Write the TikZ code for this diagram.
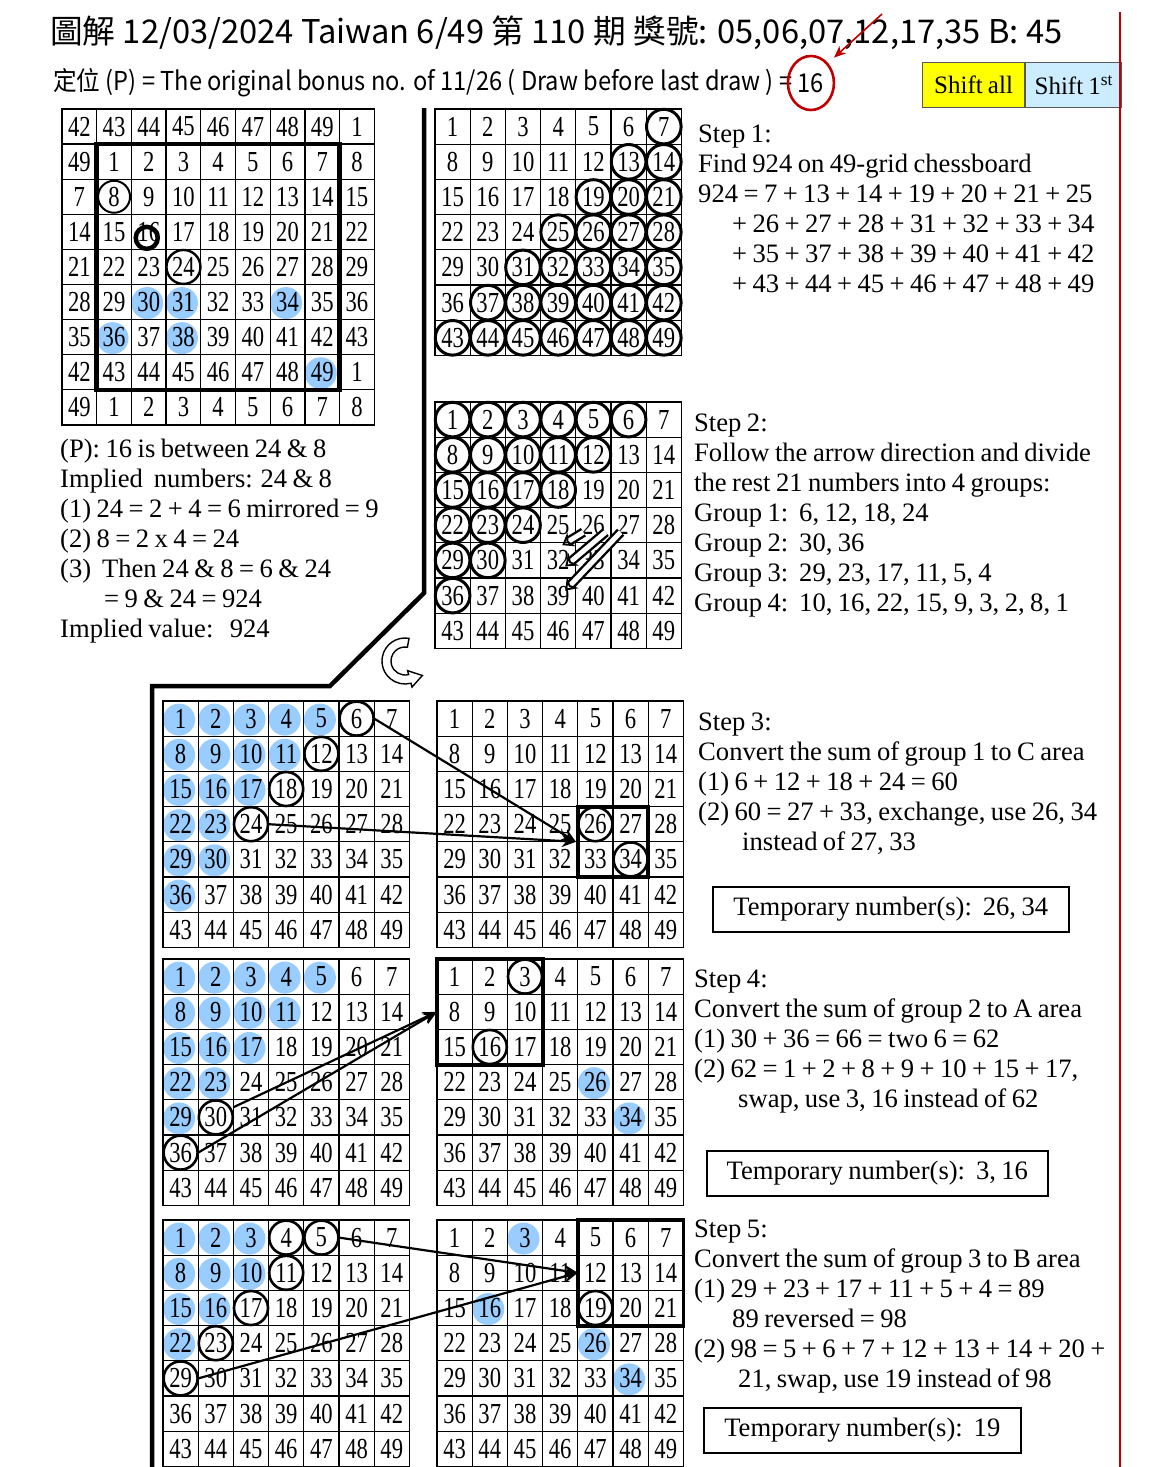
\documentclass[tikz,border=0pt]{standalone}
\usepackage{fontspec}
\setmainfont{Liberation Serif}[WordSpace=0.82]
\newfontfamily\titlefont{Noto Sans CJK TC}
\newfontfamily\linefont{Noto Sans CJK TC}[FakeStretch=0.91]
\newfontfamily\gridfont{Liberation Serif}[FakeStretch=0.78]
\usepackage{tikz}
\usetikzlibrary{arrows.meta, positioning, fit, backgrounds, calc, shapes.geometric}
\definecolor{DotBlue}{HTML}{99CCFF}
\definecolor{PickRed}{HTML}{C00000}
\definecolor{BtnYellow}{HTML}{FFFF00}
\definecolor{BtnSky}{HTML}{CCECFF}
\definecolor{BtnEdge}{HTML}{595959}

\begin{document}
\begin{tikzpicture}[x=1pt, y=-1pt,
  cell/.style={draw, line width=1.3pt, minimum width=35.2pt, minimum height=35.2pt,
               inner sep=0pt, outer sep=0pt, font=\gridfont\fontsize{29}{29}\selectfont},
  pcell/.style={cell, minimum width=34.7pt, minimum height=35.1pt},
  ring/.style={draw, line width=2.6pt},
  dot/.style={fill=DotBlue},
  area/.style={draw, line width=3.8pt, inner sep=0pt},
  movearr/.style={-{Stealth[length=14pt, width=12pt]}, line width=2.2pt},
  stripe/.style={-{Stealth[open, length=11pt, width=16pt, line width=2.4pt]},
                 line width=2.4pt, double=white, double distance=5pt},
  txt/.style={align=left, anchor=north west, inner sep=0pt,
              font=\fontsize{26.6}{30}\selectfont},
  tempbox/.style={draw, line width=1.6pt, minimum height=45pt,
                  font=\fontsize{26.6}{30}\selectfont},
  btn/.style={draw=BtnEdge, line width=1.2pt, minimum height=45pt, inner sep=0pt,
              font=\fontsize{25}{25}\selectfont},
  hollow/.style={draw, fill=white, line width=1.4pt},
  redarr/.style={-{Stealth[length=12pt, width=10pt]}, draw=PickRed, line width=1.6pt},
  headline/.style={anchor=west, inner sep=0pt}
]
\useasboundingbox (0,0) rectangle (1154,1467);
\begin{scope}[on background layer]
  \fill[white] (0,0) rectangle (1154,1467);
\end{scope}

% heading
\node[headline, font=\titlefont\fontsize{32.7}{32.7}\selectfont] (title) at (50,33)
  {圖解 12/03/2024 Taiwan 6/49 第 110 期 獎號: 05,06,07,12,17,35 B: 45};
\node[headline, font=\linefont\fontsize{26}{26}\selectfont] (posline) at (53,83)
  {定位 (P) = The original bonus no. of 11/26 ( Draw before last draw ) =};
\node[headline, font=\linefont\fontsize{26}{26}\selectfont, right=5pt of posline]
  (bonus16) {16};
\node[draw=PickRed, line width=2.6pt, ellipse, minimum width=46pt,
      minimum height=54pt] (ring16) at (bonus16) {};
\coordinate (redtail) at (882,14);
\draw[redarr, shorten >=8pt] (redtail) -- (ring16.north east);

\node[btn, fill=BtnYellow, minimum width=102pt, anchor=north west]
  (shiftall) at (922,62) {Shift all};
\node[btn, fill=BtnSky, minimum width=96pt, right=0pt of shiftall]
  (shiftfirst) {Shift 1\textsuperscript{st}};
\draw[PickRed, line width=2pt] (1120,12) -- (1120,1467);

% 9x9 position board
\foreach \r in {0,...,8}
  \foreach \c in {0,...,8} {
    \pgfmathtruncatemacro{\n}{Mod(7*\r+\c-8,49)+1}
    \node[pcell] (p-\r-\c) at (79.35+34.7*\c, 126.55+35.1*\r) {\n};
  }
\node[area, line width=4.5pt, fit=(p-1-1)(p-7-7)] (p-frame) {};
\draw[ring, line width=2pt] (p-2-1) circle (16pt);
\draw[line width=4.5pt] ($(p-3-2)+(-2,6)$) circle (11pt);
\draw[ring, line width=2.4pt] (p-4-3) circle (17pt);

% 7x7 boards
\foreach \g/\gx/\gy in {s1/435/109, s2/435/402, s3l/163/701, s3r/437/701,
                        s4l/163/959, s4r/437/959, s5l/163/1220, s5r/437/1220}
  \foreach \r in {0,...,6}
    \foreach \c in {0,...,6} {
      \pgfmathtruncatemacro{\n}{7*\r+\c+1}
      \node[cell] (\g-\n) at (\gx+17.6+35.2*\c, \gy+17.6+35.2*\r) {\n};
    }

% blue marks
\begin{scope}[on background layer]
  \foreach \k in {p-5-2, p-5-3, p-5-6, p-6-1, p-6-3, p-7-7,
                  s3l-1, s3l-2, s3l-3, s3l-4, s3l-5, s3l-8, s3l-9, s3l-10, s3l-11,
                  s3l-15, s3l-16, s3l-17, s3l-22, s3l-23, s3l-29, s3l-30, s3l-36,
                  s4l-1, s4l-2, s4l-3, s4l-4, s4l-5, s4l-8, s4l-9, s4l-10, s4l-11,
                  s4l-15, s4l-16, s4l-17, s4l-22, s4l-23, s4l-29, s4r-26, s4r-34,
                  s5l-1, s5l-2, s5l-3, s5l-8, s5l-9, s5l-10, s5l-15, s5l-16, s5l-22,
                  s5r-3, s5r-16, s5r-26, s5r-34}
    \fill[dot] ($(\k)+(-1.5,1)$) circle (16pt);
\end{scope}

% step 1 rings
\foreach \k in {7, 13, 14, 19, 20, 21, 25, 26, 27, 28, 31, 32, 33, 34, 35,
                37, 38, 39, 40, 41, 42, 43, 44, 45, 46, 47, 48, 49}
  \draw[ring, line width=3pt] (s1-\k) circle (17.3pt);

% step 2 rings and direction
\foreach \k in {1, 2, 3, 4, 5, 6, 8, 9, 10, 11, 12, 15, 16, 17, 18,
                22, 23, 24, 29, 30, 36}
  \draw[ring, line width=3pt] (s2-\k) circle (17.3pt);
\draw[stripe] ($(s2-26)+(-10,7)$) -- ($(s2-25)+(4,20)$);
\draw[stripe] ($(s2-27)+(-23,7)$) -- ($(s2-32)+(7,6)$);
\draw[stripe] ($(s2-27)+(-8,7)$) -- ($(s2-39)+(7,-5)$);

% border lines
\draw[line width=4.5pt] (424,108) -- (424,593) -- (330,686) -- (152,686) -- (152,1467);
\coordinate (uturn) at (405,661);
\draw[hollow] ($(uturn)+(80:23pt)$) arc[start angle=80, end angle=285, radius=23pt]
  -- ($(uturn)+(285:27pt)$) -- ($(uturn)+(285:18.5pt)+(15:13pt)$)
  -- ($(uturn)+(285:10pt)$) -- ($(uturn)+(285:14pt)$)
  arc[start angle=285, end angle=80, radius=14pt] -- cycle;

% step 3
\foreach \k in {6, 12, 18, 24}
  \draw[ring] (s3l-\k) circle (17pt);
\node[area, fit=(s3r-26)(s3r-34)] (s3r-C) {};
\foreach \k in {26, 34}
  \draw[ring] (s3r-\k) circle (17pt);
\draw[movearr] (s3l-6.east) -- (s3r-C.west);
\draw[movearr] (s3l-24.east) -- (s3r-C.west);

% step 4
\foreach \k in {30, 36}
  \draw[ring] (s4l-\k) circle (17pt);
\node[area, fit=(s4r-1)(s4r-17)] (s4r-A) {};
\foreach \k in {3, 16}
  \draw[ring] (s4r-\k) circle (17pt);
\draw[movearr] (s4l-30.30) -- (s4r-8.west);
\draw[movearr] (s4l-36.east) -- (s4r-8.west);

% step 5
\foreach \k in {4, 5, 11, 17, 23, 29}
  \draw[ring] (s5l-\k) circle (17pt);
\node[area, fit=(s5r-5)(s5r-21)] (s5r-B) {};
\draw[ring] (s5r-19) circle (17pt);
\draw[movearr] (s5l-5.east) -- (s5r-12.west);
\draw[movearr] (s5l-29.east) -- (s5r-12.west);

% texts
\node[txt] (step1) at (698,125) {Step 1:\\
  Find 924 on 49-grid chessboard\\
  924 = 7 + 13 + 14 + 19 + 20 + 21 + 25\\
  \hspace*{34pt}+ 26 + 27 + 28 + 31 + 32 + 33 + 34\\
  \hspace*{34pt}+ 35 + 37 + 38 + 39 + 40 + 41 + 42\\
  \hspace*{34pt}+ 43 + 44 + 45 + 46 + 47 + 48 + 49};
\node[txt] (implied) at (60,439) {(P): 16 is between 24 \& 8\\
  Implied\ \ numbers: 24 \& 8\\
  (1) 24 = 2 + 4 = 6 mirrored = 9\\
  (2) 8 = 2 x 4 = 24\\
  (3)\ \ Then 24 \& 8 = 6 \& 24\\
  \hspace*{44pt}= 9 \& 24 = 924\\
  Implied value:\ \ \ 924};
\node[txt] (step2) at (694,414) {Step 2:\\
  Follow the arrow direction and divide\\
  the rest 21 numbers into 4 groups:\\
  Group 1:\ \ 6, 12, 18, 24\\
  Group 2:\ \ 30, 36\\
  Group 3:\ \ 29, 23, 17, 11, 5, 4\\
  Group 4:\ \ 10, 16, 22, 15, 9, 3, 2, 8, 1};
\node[txt] (step3) at (698,713) {Step 3:\\
  Convert the sum of group 1 to C area\\
  (1) 6 + 12 + 18 + 24 = 60\\
  (2) 60 = 27 + 33, exchange, use 26, 34\\
  \hspace*{44pt}instead of 27, 33};
\node[tempbox, minimum width=356pt, anchor=west] (temp3) at (712,909.5)
  {Temporary number(s):\ \ 26, 34};
\node[txt] (step4) at (694,970) {Step 4:\\
  Convert the sum of group 2 to A area\\
  (1) 30 + 36 = 66 = two 6 = 62\\
  (2) 62 = 1 + 2 + 8 + 9 + 10 + 15 + 17,\\
  \hspace*{44pt}swap, use 3, 16 instead of 62};
\node[tempbox, minimum width=341pt, anchor=west] (temp4) at (706,1173.5)
  {Temporary number(s):\ \ 3, 16};
\node[txt] (step5) at (694,1220) {Step 5:\\
  Convert the sum of group 3 to B area\\
  (1) 29 + 23 + 17 + 11 + 5 + 4 = 89\\
  \hspace*{38pt}89 reversed = 98\\
  (2) 98 = 5 + 6 + 7 + 12 + 13 + 14 + 20 +\\
  \hspace*{44pt}21, swap, use 19 instead of 98};
\node[tempbox, minimum width=317pt, anchor=west] (temp5) at (703,1430.5)
  {Temporary number(s):\ \ 19};
\end{tikzpicture}
\end{document}
